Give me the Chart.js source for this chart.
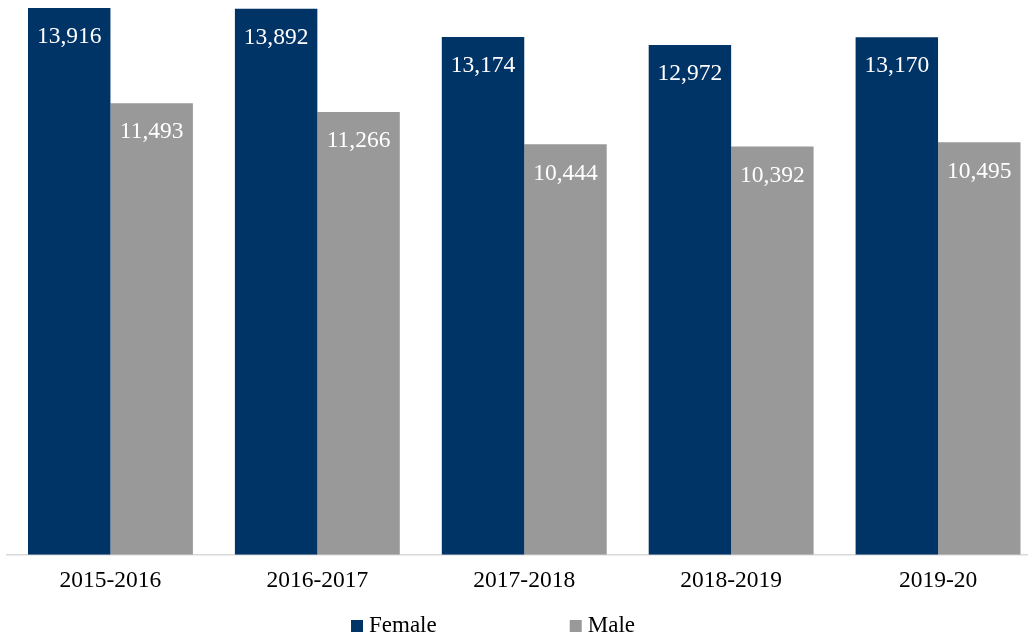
<!DOCTYPE html>
<html>
<head>
<meta charset="utf-8">
<script src="https://cdn.jsdelivr.net/npm/chart.js@4"></script>
<style>
  html, body { margin: 0; padding: 0; overflow: hidden; background: #fff; }
  #wrap { width: 1045px; height: 638px; }
</style>
</head>
<body>
<div id="wrap"><canvas id="myChart"></canvas></div>
<script>
const years = ["2015-2016", "2016-2017", "2017-2018", "2018-2019", "2019-20"];
const female = [13916, 13892, 13174, 12972, 13170];
const male = [11493, 11266, 10444, 10392, 10495];

const serif = "'Liberation Serif', 'Times New Roman', serif";

// numbers inside the top of each bar
const barLabels = {
    id: 'barLabels',
    afterDatasetsDraw(chart) {
        const ctx = chart.ctx;
        ctx.save();
        ctx.font = "23.5px " + serif;
        ctx.fillStyle = "#ffffff";
        ctx.textAlign = "center";
        ctx.textBaseline = "middle";
        chart.data.datasets.forEach((ds, i) => {
            chart.getDatasetMeta(i).data.forEach((bar, j) => {
                ctx.fillText(ds.data[j].toLocaleString('en-US'), bar.x, bar.y + 29);
            });
        });
        ctx.restore();
    }
};

// legend drawn by hand so it sits where the original one does
const bottomLegend = {
    id: 'bottomLegend',
    afterDraw(chart) {
        const ctx = chart.ctx;
        ctx.save();
        ctx.font = "23px " + serif;
        ctx.textBaseline = "middle";
        const box = 12, gap = 6, spacing = 133;
        const items = chart.data.datasets.map(ds => ({
            label: ds.label, color: ds.backgroundColor,
            w: box + gap + ctx.measureText(ds.label).width
        }));
        const total = items.reduce((s, it) => s + it.w, 0) + spacing * (items.length - 1);
        let x = 493 - total / 2;
        const y = 626;
        items.forEach(it => {
            ctx.fillStyle = it.color;
            ctx.fillRect(x, y - box / 2, box, box);
            ctx.fillStyle = "#000000";
            ctx.fillText(it.label, x + box + gap, y);
            x += it.w + spacing;
        });
        ctx.restore();
    }
};

const ctx = document.getElementById('myChart').getContext('2d');
const myChart = new Chart(ctx, {
    type: 'bar',
    data: {
        labels: years,
        datasets: [
            { label: 'Female', data: female, backgroundColor: '#003366' },
            { label: 'Male', data: male, backgroundColor: '#999999' }
        ]
    },
    options: {
        responsive: true,
        maintainAspectRatio: false,
        animation: false,
        layout: { padding: { left: 7, right: 3.5, top: 4.6, bottom: 31 } },
        plugins: {
            legend: { display: false },
            tooltip: { enabled: false }
        },
        datasets: {
            bar: { categoryPercentage: 0.797, barPercentage: 1 }
        },
        scales: {
            x: {
                grid: { display: false, drawTicks: false },
                border: { display: true, color: '#d9d9d9', width: 1.5 },
                ticks: { color: '#000000', padding: 12, font: { family: serif, size: 23.5 } }
            },
            y: {
                display: false,
                min: 0,
                max: 14000
            }
        }
    },
    plugins: [barLabels, bottomLegend]
});
</script>
</body>
</html>
